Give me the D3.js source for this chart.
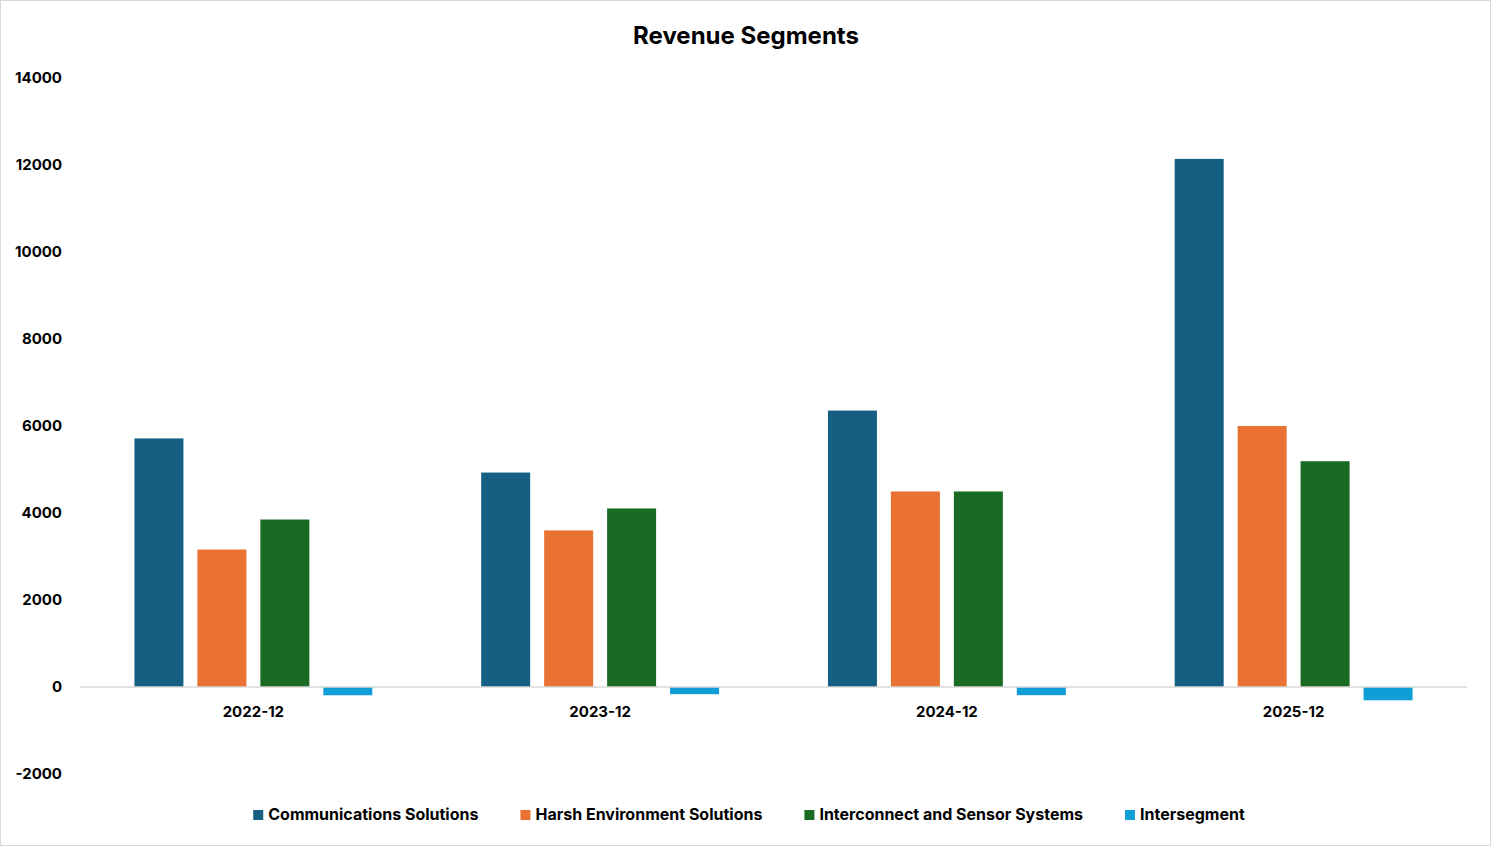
<!DOCTYPE html>
<html>
<head>
<meta charset="utf-8">
<script src="https://cdn.jsdelivr.net/npm/d3@7"></script>
<style>
  body { margin: 0; background: #fff; }
  text { font-family: Inter, "Open Sans", sans-serif; font-weight: bold; fill: #000; }
</style>
</head>
<body>
<div id="chart"></div>
<script>
var categories = ["2022-12", "2023-12", "2024-12", "2025-12"];
var seriesNames = ["Communications Solutions", "Harsh Environment Solutions", "Interconnect and Sensor Systems", "Intersegment"];
var commValues = [5715, 4930, 6355, 12140];
var harshValues = [3160, 3600, 4495, 6000];
var interconnectValues = [3850, 4105, 4495, 5190];
var intersegmentValues = [-190, -165, -188, -305];
var yTicks = [-2000, 0, 2000, 4000, 6000, 8000, 10000, 12000, 14000];
var colors = ["#156082", "#E97132", "#196B24", "#0F9ED5"];

var seriesValues = [commValues, harshValues, interconnectValues, intersegmentValues];

var w = 1491;
var h = 846;

var svg = d3.select("#chart")
            .append("svg")
            .attr("width", w)
            .attr("height", h);

// cadre gris
svg.append("rect")
   .attr("x", 0.5).attr("y", 0.5)
   .attr("width", w - 1).attr("height", h - 1)
   .attr("fill", "#fff")
   .attr("stroke", "#d9d9d9");

var x0 = d3.scaleBand()
           .domain(categories)
           .range([80, 1467])
           .paddingInner(0.314)
           .paddingOuter(0.157);

var x1 = d3.scaleBand()
           .domain(d3.range(seriesNames.length))
           .range([0, x0.bandwidth()])
           .paddingInner(0.222);

var y = d3.scaleLinear()
          .domain([-2000, 14000])
          .range([774, 78]);

// titre
svg.append("text")
   .attr("x", 746)
   .attr("y", 44)
   .attr("text-anchor", "middle")
   .attr("font-size", "24px")
   .text("Revenue Segments");

// axe Y (labels seulement)
var yAxis = d3.axisLeft(y)
   .tickValues(yTicks)
   .tickSize(0)
   .tickPadding(0)
   .tickFormat(function(d) { return String(d); });
var gy = svg.append("g")
   .attr("transform", "translate(62,0)")
   .call(yAxis);
gy.select(".domain").remove();
gy.selectAll("text")
  .attr("font-size", "15px")
  .attr("font-family", "Inter, sans-serif")
  .attr("font-weight", "bold")
  .attr("fill", "#000");

// barres
var groups = svg.selectAll("g.cat")
   .data(categories)
   .enter()
   .append("g")
   .attr("class", "cat")
   .attr("transform", function(d) { return "translate(" + x0(d) + ",0)"; });

groups.selectAll("rect")
   .data(function(d, i) {
     return seriesValues.map(function(vals, s) { return { s: s, v: vals[i] }; });
   })
   .enter()
   .append("rect")
   .attr("x", function(d) { return x1(d.s); })
   .attr("y", function(d) { return y(Math.max(0, d.v)); })
   .attr("width", x1.bandwidth())
   .attr("height", function(d) { return Math.abs(y(d.v) - y(0)); })
   .attr("fill", function(d) { return colors[d.s]; });

// ligne du zéro
svg.append("line")
   .attr("x1", 80).attr("x2", 1467)
   .attr("y1", y(0)).attr("y2", y(0))
   .attr("stroke", "#d9d9d9")
   .attr("stroke-width", 1.5);

// axe X
var xAxis = d3.axisBottom(x0).tickSize(0).tickPadding(0);
var gx = svg.append("g")
   .attr("transform", "translate(0," + 706 + ")")
   .call(xAxis);
gx.select(".domain").remove();
gx.selectAll("text")
  .attr("font-size", "15px")
  .attr("font-family", "Inter, sans-serif")
  .attr("font-weight", "bold")
  .attr("fill", "#000");

// légende
var legend = svg.append("g");
var lx = 0;
seriesNames.forEach(function(name, i) {
  var item = legend.append("g").attr("transform", "translate(" + lx + ",0)");
  item.append("rect")
      .attr("x", 0).attr("y", -10)
      .attr("width", 10).attr("height", 10)
      .attr("fill", colors[i]);
  var t = item.append("text")
      .attr("x", 15).attr("y", 0)
      .attr("font-size", "16px")
      .text(name);
  lx += 15 + t.node().getComputedTextLength() + 42;
});
var legendWidth = lx - 42;
legend.attr("transform", "translate(" + (749 - legendWidth / 2) + ",820)");
</script>
</body>
</html>
